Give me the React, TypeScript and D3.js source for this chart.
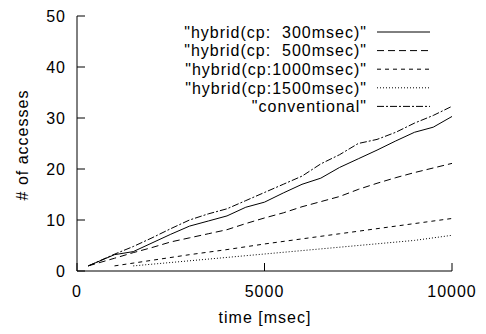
import React from 'react';
import * as d3 from 'd3';

// time [msec] sample points
const timesFast = [300, 1000, 1500, 2000, 2500, 3000, 3500, 4000, 4500, 5000, 5500, 6000, 6500, 7000, 7500, 8000, 8500, 9000, 9500, 10000];
const cp300 = [1, 3.2, 3.8, 5.5, 7.2, 8.8, 9.8, 10.8, 12.5, 13.5, 15.3, 17, 18.2, 20.3, 22, 23.7, 25.5, 27.2, 28.2, 30.3];
const cp500 = [1, 2.5, 3.6, 4.6, 5.7, 6.5, 7.3, 8.1, 9.3, 10.4, 11.4, 12.6, 13.6, 14.6, 16, 17.2, 18.3, 19.3, 20.2, 21.1];
const conventional = [1, 3.3, 4.8, 6.5, 8.3, 10, 11.2, 12.2, 13.8, 15.4, 17, 18.6, 21, 22.8, 25, 25.8, 27.2, 29, 30.5, 32.3];
const times1000 = [1000, 2000, 3000, 4000, 5000, 6000, 7000, 8000, 9000, 10000];
const cp1000 = [1, 2.1, 3.2, 4.2, 5.3, 6.3, 7.3, 8.3, 9.3, 10.3];
const times1500 = [1500, 3000, 4500, 6000, 7500, 9000, 10000];
const cp1500 = [1, 2, 3, 4, 5, 6, 7];

const xTicks = [0, 5000, 10000];
const yTicks = [0, 10, 20, 30, 40, 50];

const series = [
  { label: '"hybrid(cp:  300msec)"', t: timesFast, v: cp300, dash: 'none' },
  { label: '"hybrid(cp:  500msec)"', t: timesFast, v: cp500, dash: '7,4' },
  { label: '"hybrid(cp:1000msec)"', t: times1000, v: cp1000, dash: '4,4' },
  { label: '"hybrid(cp:1500msec)"', t: times1500, v: cp1500, dash: '1,2' },
  { label: '"conventional"', t: timesFast, v: conventional, dash: '7,2,2,2' },
];

const W = 486;
const H = 334;
const font = { fontFamily: '"Liberation Sans", Arial, sans-serif', fontSize: 16, letterSpacing: 1 };

export default function App() {
  const x = d3.scaleLinear().domain([0, 10000]).range([77, 452]);
  const y = d3.scaleLinear().domain([0, 50]).range([271, 16]);
  const line = d3.line<[number, number]>().x(d => x(d[0])).y(d => y(d[1]));

  return (
    <svg width={W} height={H} style={{ position: 'absolute', left: 0, top: 0, background: '#fff' }}>
      <rect width={W} height={H} fill="#fff" />
      {/* axes */}
      <line x1={77} y1={y(50)} x2={77} y2={271} stroke="#000" />
      <line x1={77} y1={271} x2={452} y2={271} stroke="#000" />
      {yTicks.map(t => (
        <g key={'y' + t}>
          <line x1={77} x2={85} y1={y(t)} y2={y(t)} stroke="#000" />
          <text x={66} y={y(t)} dy="0.36em" textAnchor="end" {...font}>{t}</text>
        </g>
      ))}
      {xTicks.map(t => (
        <g key={'x' + t}>
          <line x1={x(t)} x2={x(t)} y1={271} y2={263} stroke="#000" />
          <text x={x(t)} y={297} textAnchor="middle" {...font}>{t}</text>
        </g>
      ))}
      <text x={265} y={323} textAnchor="middle" {...font}>time [msec]</text>
      <text transform="translate(28,145) rotate(-90)" textAnchor="middle" {...font}># of accesses</text>

      {/* data */}
      {series.map(s => (
        <path key={s.label} d={line(s.t.map((t, i) => [t, s.v[i]] as [number, number])) || ''}
          fill="none" stroke="#000" strokeWidth={1} strokeDasharray={s.dash} />
      ))}

      {/* legend */}
      {series.map((s, i) => {
        const ly = 32 + i * 18.6;
        return (
          <g key={'l' + i}>
            <text x={367} y={ly} dy="0.36em" textAnchor="end" style={{ whiteSpace: 'pre' }} {...font}>{s.label}</text>
            <line x1={377} x2={430} y1={ly} y2={ly} stroke="#000" strokeDasharray={s.dash} />
          </g>
        );
      })}
    </svg>
  );
}
